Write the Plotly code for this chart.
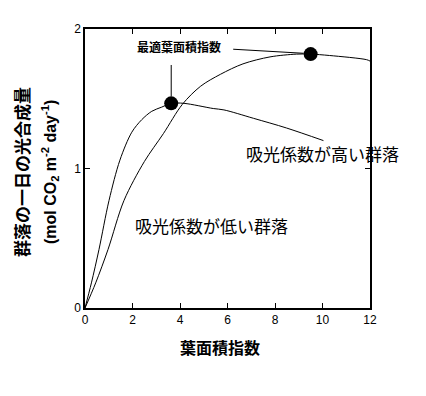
import plotly.graph_objects as go

# Data
lai_high = [0, 0.27, 0.59, 1.01, 1.47, 1.97, 2.39, 2.81, 3.23, 3.63, 4.17, 5.4, 5.85, 7.09, 8.49, 10.04]
ps_high = [0, 0.18, 0.42, 0.77, 1.06, 1.26, 1.35, 1.41, 1.44, 1.467, 1.467, 1.43, 1.42, 1.36, 1.29, 1.20]

lai_low = [0, 0.45, 0.97, 1.64, 2.5, 3.3, 4.1, 4.87, 5.7, 6.65, 7.79, 8.91, 9.5, 10.3, 11.86, 12]
ps_low = [0, 0.18, 0.42, 0.77, 1.05, 1.25, 1.46, 1.59, 1.675, 1.75, 1.80, 1.82, 1.82, 1.81, 1.78, 1.77]

opt_lai = [3.63, 9.50]
opt_ps = [1.467, 1.82]

x_ticks = [0, 2, 4, 6, 8, 10, 12]
y_ticks = [0, 1, 2]

label_high = "吸光係数が高い群落"
label_low = "吸光係数が低い群落"
label_opt = "最適葉面積指数"
x_title = "葉面積指数"
y_title1 = "群落の一日の光合成量"
y_title2 = "(mol CO<sub>2</sub> m<sup>-2</sup> day<sup>-1</sup>)"

CJK = "Noto Sans CJK JP"
LAT = "Liberation Sans, Arial"

fig = go.Figure()
fig.add_trace(go.Scatter(x=lai_high, y=ps_high, mode="lines",
                         line=dict(color="black", width=1, shape="spline", smoothing=0.9),
                         showlegend=False, hoverinfo="skip"))
fig.add_trace(go.Scatter(x=lai_low, y=ps_low, mode="lines",
                         line=dict(color="black", width=1, shape="spline", smoothing=0.9),
                         showlegend=False, hoverinfo="skip"))
fig.add_trace(go.Scatter(x=opt_lai, y=opt_ps, mode="markers",
                         marker=dict(color="black", size=14),
                         showlegend=False, hoverinfo="skip"))

# leader lines from label to optimum points
fig.add_shape(type="line", x0=opt_lai[0], x1=opt_lai[0], y0=1.742, y1=opt_ps[0] + 0.05,
              line=dict(color="black", width=1))
fig.add_shape(type="line", x0=6.24, x1=opt_lai[1] - 0.3, y0=1.855, y1=opt_ps[1] + 0.006,
              line=dict(color="black", width=1))

fig.add_annotation(x=3.96, y=1.873, text=label_opt, showarrow=False,
                   font=dict(family=CJK, size=12, color="black", weight="bold"),
                   xanchor="center", yanchor="middle")
fig.add_annotation(x=10.02, y=1.11, text=label_high, showarrow=False,
                   font=dict(family=CJK, size=17, color="black"),
                   xanchor="center", yanchor="middle")
fig.add_annotation(x=5.33, y=0.595, text=label_low, showarrow=False,
                   font=dict(family=CJK, size=17, color="black"),
                   xanchor="center", yanchor="middle")

fig.add_annotation(xref="paper", yref="paper", x=0.472, y=-0.139, text=x_title,
                   showarrow=False, font=dict(family=CJK, size=16, color="black", weight="bold"),
                   xanchor="center", yanchor="middle")
fig.add_annotation(xref="paper", yref="paper", x=-0.2246, y=0.487, text=y_title1,
                   showarrow=False, textangle=-90,
                   font=dict(family=CJK, size=17, color="black", weight="bold"),
                   xanchor="center", yanchor="middle")
fig.add_annotation(xref="paper", yref="paper", x=-0.123, y=0.487, text=y_title2,
                   showarrow=False, textangle=-90,
                   font=dict(family=LAT, size=16, color="black", weight="bold"),
                   xanchor="center", yanchor="middle")

axis_common = dict(showgrid=False, zeroline=False, showline=True, linecolor="black",
                   linewidth=1.5, ticks="inside", ticklen=5, tickwidth=1, tickcolor="black",
                   mirror="ticks", tickfont=dict(family=LAT, size=12, color="black"))

fig.update_xaxes(range=[0, 12], tickvals=x_ticks, ticktext=[str(v) for v in x_ticks], **axis_common)
fig.update_yaxes(range=[0, 2], tickvals=y_ticks, ticktext=[str(v) for v in y_ticks], **axis_common)

fig.update_layout(width=426, height=396, margin=dict(l=85, r=56, t=29, b=88),
                  paper_bgcolor="white", plot_bgcolor="white", showlegend=False)

fig.write_html("out.html", config={"displayModeBar": False},
               post_script="document.body.style.margin='0px';document.body.style.overflow='hidden';")
